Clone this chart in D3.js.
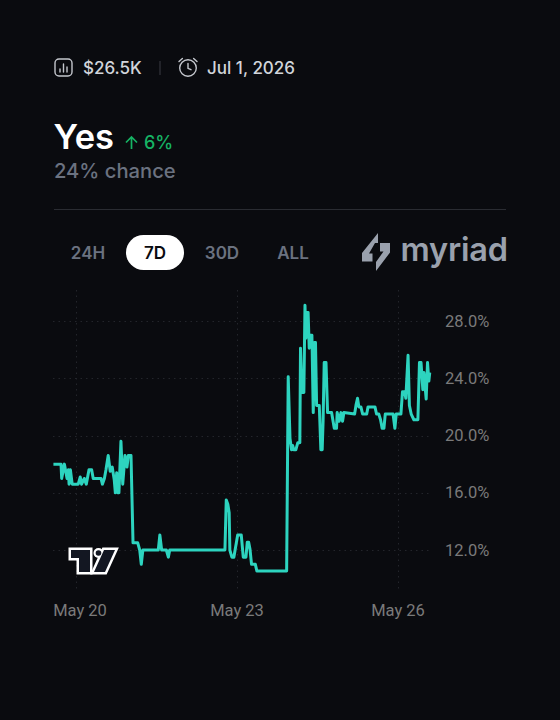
<!DOCTYPE html>
<html><head><meta charset="utf-8">
<style>html,body{margin:0;background:#0a0b0f}svg{display:block}text{font-family:Inter,sans-serif}</style>
<script src="https://cdn.jsdelivr.net/npm/d3@7"></script></head><body>
<script>
const hours=[-10.1,-6.7,-6.4,-5.2,-4.0,-3.4,-3.1,-2.5,-1.7,1.0,1.9,2.5,3.7,4.6,5.8,7.0,7.7,11.2,11.8,12.7,13.4,14.4,15.3,16.2,17.1,17.6,18.2,18.6,19.2,20.1,20.9,21.9,22.8,23.4,24.6,25.5,27.6,28.5,29.2,29.9,36.8,37.5,38.3,40.4,41.3,41.9,66.6,67.2,67.9,68.5,68.8,69.7,70.6,72.3,73.9,74.8,76.0,76.6,77.2,77.8,78.5,80.2,80.9,94.2,94.9,95.7,96.4,96.9,97.4,98.3,99.2,100.1,100.4,101.0,101.9,102.4,102.8,103.4,103.8,104.3,104.9,105.5,106.1,106.7,107.1,107.6,108.8,109.5,110.1,110.5,111.0,111.8,112.5,114.3,115.5,116.5,116.8,117.7,118.5,119.2,119.8,124.6,125.2,125.9,126.5,127.4,128.2,130.0,130.6,133.7,134.4,135.4,136.2,136.9,137.7,138.3,141.8,142.6,143.2,145.3,146,147,147.5,148.5,149.1,149.9,151.1,152.9,153.6,154.3,155.1,155.6,156.6,157.2,157.8,158.2];
const values=[18,18,17,18,17,17.6,16.6,17.6,16.6,16.6,17.1,16.6,17,16.6,17.6,17.6,17,17,16.6,17,17.6,18.6,17.5,17.8,16.9,16,17.4,16,16,19.6,16.6,18.6,17.8,18.6,18.6,12.5,12.5,12,11,12,12,13.05,12,12,11.5,12,12,15.5,15.2,14.6,12,11.5,11.5,13.05,13.05,11.5,11.5,12.55,12.55,12.07,11,11,10.53,10.53,24.1,19.8,19,19.3,19,19,19.5,19.5,26.1,23,23,29.1,26.8,28.6,28.6,26.1,27,27,21.6,26.5,26.5,22.1,22.1,19,19,21,25.1,25.1,21.6,21.6,20.5,20.5,21.6,21,21.6,21,21.6,21.5,22.1,22.6,22,22,21.5,21.5,22,22,21.5,21.5,21.1,20.5,20.5,21.5,21.5,20.5,21.5,21.5,23.05,23.05,22.6,25.6,22.1,21.5,21.1,21.1,25.1,25.1,23.2,24.4,22.55,25.1,23.8,24.4];
const xTicks=[0,72,144];
const xTickLabels=["May 20","May 23","May 26"];
const yTicks=[12,16,20,24,28];
const tabs=["24H","7D","30D","ALL"];

const svg=d3.select("body").append("svg").attr("width",560).attr("height",720);
const x=d3.scaleLinear().domain([0,144]).range([76,398]);
const y=d3.scaleLinear().domain([12,28]).range([550,321]);
const lm=53,rm=430,plotTop=290,plotBot=590;

// header
const ic=svg.append("g").attr("fill","none").attr("stroke","#c4c7cd").attr("stroke-width",1.4).attr("stroke-linecap","round");
ic.append("rect").attr("x",55).attr("y",59).attr("width",17).attr("height",17).attr("rx",4);
ic.append("path").attr("d","M60 69v3M63.5 64v8M67 67v5");
ic.append("circle").attr("cx",188).attr("cy",68).attr("r",8.3);
ic.append("path").attr("d","M188 63.5v4.8l3 1.4M179 61.5l3.4-3M197 61.5l-3.4-3");
svg.append("text").attr("x",83).attr("y",74).attr("font-size",17).attr("font-weight",500).attr("fill","#d1d5db").text("$26.5K");
svg.append("line").attr("x1",160).attr("x2",160).attr("y1",61).attr("y2",75).attr("stroke","#3a3d44");
svg.append("text").attr("x",207).attr("y",74).attr("font-size",17).attr("font-weight",500).attr("fill","#d1d5db").text("Jul 1, 2026");
svg.append("text").attr("x",53.5).attr("y",149).attr("font-size",34.5).attr("font-weight",600).attr("fill","#fff").text("Yes");
svg.append("path").attr("d","M131.5 149v-12M126 142.500l5.500-5.500 5.500 5.500").attr("fill","none").attr("stroke","#16b364").attr("stroke-width",1.7);
svg.append("text").attr("x",144).attr("y",148.5).attr("font-size",18).attr("font-weight",500).attr("fill","#16b364").text("6%");
svg.append("text").attr("x",54).attr("y",178).attr("font-size",20.2).attr("font-weight",500).attr("fill","#6b7280").text("24% chance");
svg.append("line").attr("x1",54).attr("x2",506).attr("y1",209.5).attr("y2",209.5).attr("stroke","#2a2c32");

// tabs
const tabX=[88,155,222,293];
svg.append("rect").attr("x",126).attr("y",235).attr("width",58).attr("height",35).attr("rx",17.5).attr("fill","#fff");
svg.selectAll(".tab").data(tabs).join("text").attr("class","tab").attr("x",(d,i)=>tabX[i]).attr("y",258.500)
 .attr("text-anchor","middle").attr("font-size",17).attr("font-weight",600)
 .attr("fill",d=>d==="7D"?"#0a0b0f":"#6b7280").text(d=>d);

// myriad logo
svg.append("path").attr("fill","#9aa1ad").attr("d","M362 253L378 233V243H375L369 253.500H372.500V261.500H362ZM390 243V252.500L376 271V262L383.500 251.500H380V243Z");
svg.append("text").attr("x",400.500).attr("y",261).attr("font-size",32.5).attr("font-weight",600).attr("letter-spacing",-0.2).attr("fill","#9aa1ad").text("myriad");

// grid
const g=svg.append("g").attr("stroke","#23252b").attr("stroke-width",1).attr("stroke-dasharray","1.5 4");
g.selectAll(".gh").data(yTicks).join("line").attr("class","gh").attr("x1",lm).attr("x2",rm).attr("y1",d=>Math.round(y(d))+.5).attr("y2",d=>Math.round(y(d))+.5);
g.selectAll(".gv").data(xTicks).join("line").attr("class","gv").attr("y1",plotTop).attr("y2",plotBot).attr("x1",d=>Math.round(x(d))+.5).attr("x2",d=>Math.round(x(d))+.5);

// axes labels
svg.selectAll(".yl").data(yTicks).join("text").attr("class","yl").attr("x",445).attr("y",d=>y(d)+5.5)
 .attr("font-size",16.5).attr("fill","#7a7a7a").style("font-family","Roboto,sans-serif").text(d=>d.toFixed(1)+"%");
svg.selectAll(".xl").data(xTicks).join("text").attr("class","xl").attr("y",615.5).attr("text-anchor","middle")
 .attr("x",(d,i)=>Math.max(x(d),80)).attr("font-size",16.5).attr("fill","#7a7a7a").style("font-family","Roboto,sans-serif").text((d,i)=>xTickLabels[i]);

// line
const pts=hours.map((h,i)=>[h,values[i]]);
svg.append("path").datum(pts).attr("fill","none").attr("stroke","#2dd4bf").attr("stroke-width",3).attr("stroke-linejoin","round")
 .attr("d",d3.line().x(d=>x(d[0])).y(d=>y(d[1])));

// TV logo
const tv=svg.append("g");
const tvShapes=["M71 550H90V572H79V558H71Z","M104 550H115L105 572H94Z"];
tv.selectAll(".o").data(tvShapes).join("path").attr("class","o").attr("d",d=>d).attr("fill","#fff").attr("stroke","#fff").attr("stroke-width",5);
tv.append("circle").attr("cx",98.500).attr("cy",553).attr("r",5).attr("fill","#fff");
tv.selectAll(".i").data(tvShapes).join("path").attr("class","i").attr("d",d=>d).attr("fill","#131722");
tv.append("circle").attr("cx",98.500).attr("cy",553).attr("r",2.8).attr("fill","#131722");
</script></body></html>
